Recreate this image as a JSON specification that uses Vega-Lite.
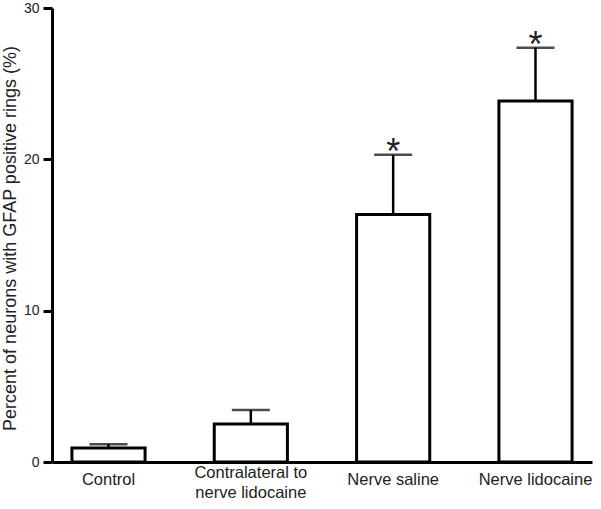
{
  "$schema": "https://vega.github.io/schema/vega-lite/v6.json",
  "width": 540,
  "height": 454,
  "autosize": {"type": "none"},
  "padding": {"left": 52, "top": 8, "right": 9, "bottom": 47},
  "background": "white",
  "config": {
    "view": {"stroke": null},
    "font": "Liberation Sans",
    "axis": {"grid": false, "domainColor": "black", "tickColor": "black", "labelColor": "#222", "titleColor": "#222", "labelFont": "Liberation Sans", "titleFont": "Liberation Sans"}
  },
  "data": {
    "values": [
      {"group": "Control", "mean": 0.92, "upper": 1.17, "star": ""},
      {"group": "Contralateral to nerve lidocaine", "mean": 2.51, "upper": 3.44, "star": ""},
      {"group": "Nerve saline", "mean": 16.35, "upper": 20.3, "star": "*"},
      {"group": "Nerve lidocaine", "mean": 23.86, "upper": 27.38, "star": "*"}
    ]
  },
  "encoding": {
    "x": {
      "field": "group",
      "type": "nominal",
      "sort": null,
      "scale": {"paddingInner": 0.486, "paddingOuter": 0.14},
      "axis": {
        "title": null,
        "labelAngle": 0,
        "ticks": false,
        "domainWidth": 3,
        "labelFontSize": 16.5,
        "labelLineHeight": 20,
        "labelPadding": {"condition": {"test": "datum.value == 'Contralateral to nerve lidocaine'", "value": 2}, "value": 9},
        "labelExpr": "datum.value == 'Contralateral to nerve lidocaine' ? ['Contralateral to', 'nerve lidocaine'] : datum.value"
      }
    }
  },
  "layer": [
    {
      "mark": {"type": "rule", "stroke": "black", "strokeWidth": 2.5},
      "encoding": {
        "y": {"field": "mean", "type": "quantitative"},
        "y2": {"field": "upper"}
      }
    },
    {
      "mark": {"type": "tick", "color": "black", "size": 38, "thickness": 2.5, "orient": "horizontal"},
      "encoding": {"y": {"field": "upper", "type": "quantitative"}}
    },
    {
      "mark": {"type": "bar", "fill": "white", "stroke": "black", "strokeWidth": 3},
      "encoding": {
        "y": {
          "field": "mean",
          "type": "quantitative",
          "scale": {"domain": [0, 30], "nice": false},
          "axis": {
            "values": [0, 10, 20, 30],
            "title": "Percent of neurons with GFAP positive rings (%)",
            "titleFontSize": 18,
            "titleFontWeight": "normal",
            "titleAngle": -90,
            "titleX": -42,
            "titleY": 230,
            "titleAlign": "center",
            "titleBaseline": "middle",
            "domainWidth": 3,
            "tickWidth": 3,
            "tickSize": 9,
            "labelPadding": 4,
            "labelFontSize": 14
          }
        }
      }
    },
    {
      "mark": {"type": "text", "fontSize": 36, "baseline": "alphabetic", "dy": 9, "color": "#222"},
      "encoding": {
        "y": {"field": "upper", "type": "quantitative"},
        "text": {"field": "star"}
      }
    }
  ]
}
